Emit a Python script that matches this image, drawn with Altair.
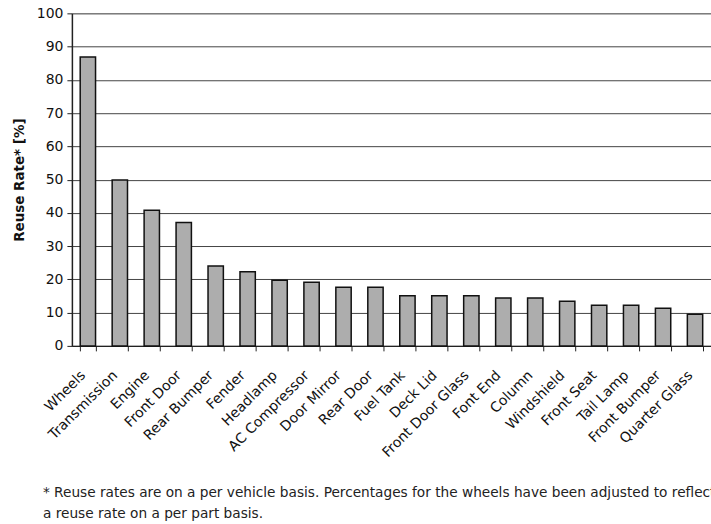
import altair as alt
import pandas as pd

parts = ["Wheels", "Transmission", "Engine", "Front Door", "Rear Bumper", "Fender",
         "Headlamp", "AC Compressor", "Door Mirror", "Rear Door", "Fuel Tank", "Deck Lid",
         "Front Door Glass", "Font End", "Column", "Windshield", "Front Seat", "Tail Lamp",
         "Front Bumper", "Quarter Glass"]
rates = [86.9, 49.9, 40.8, 37.1, 24.0, 22.3, 19.7, 19.1, 17.6, 17.6, 15.1, 15.1,
         15.1, 14.4, 14.4, 13.4, 12.2, 12.2, 11.3, 9.5]
y_ticks = [0, 10, 20, 30, 40, 50, 60, 70, 80, 90, 100]
footnote = ["* Reuse rates are on a per vehicle basis. Percentages for the wheels have been adjusted to reflect",
            "a reuse rate on a per part basis."]

df = pd.DataFrame({"part": parts, "rate": rates})
fn = pd.DataFrame({"line": footnote, "row": [0, 1]})

FONT = "DejaVu Sans"

bars = alt.Chart(df).mark_bar(
    fill="#adadad", stroke="#111111", strokeWidth=1.5
).encode(
    x=alt.X("part:N", sort=parts,
            scale=alt.Scale(paddingInner=0.52, paddingOuter=0.26),
            axis=alt.Axis(title=None, labelAngle=-45, labelAlign="right",
                          labelBaseline="middle", labelFont=FONT, labelFontSize=14,
                          labelColor="#111", labelPadding=22, labelOffset=-5,
                          tickSize=5, tickColor="#222", tickBand="extent",
                          domainColor="#222", domainWidth=1.2, grid=False)),
    y=alt.Y("rate:Q", scale=alt.Scale(domain=[0, 100], nice=False),
            axis=alt.Axis(title="Reuse Rate* [%]", values=y_ticks,
                          titleFont=FONT, titleFontSize=13.5, titleFontWeight="bold",
                          titleColor="#111", titlePadding=10,
                          labelFont=FONT, labelFontSize=14, labelColor="#111",
                          labelPadding=4, tickSize=5, tickColor="#222",
                          domainColor="#222", domainWidth=1.5,
                          grid=True, gridColor="#444", gridWidth=1))
)

notes = alt.Chart(fn).mark_text(
    align="left", baseline="middle", font=FONT, fontSize=13.7, color="#222"
).encode(
    text="line:N",
    x=alt.value(-29),
    y=alt.Y("row:Q", scale=alt.Scale(domain=[0, 1], range=[480, 501]), axis=None),
)

chart = alt.layer(bars, notes).resolve_scale(y="independent").properties(
    width=640, height=333,
    autosize=alt.AutoSizeParams(type="none"),
    padding={"left": 72, "top": 13, "right": 0, "bottom": 178},
).configure_view(stroke="#999", strokeDash=[1, 1], strokeWidth=1).configure(background="white")

chart.save("out.html", embed_options={"renderer": "svg", "actions": False})
